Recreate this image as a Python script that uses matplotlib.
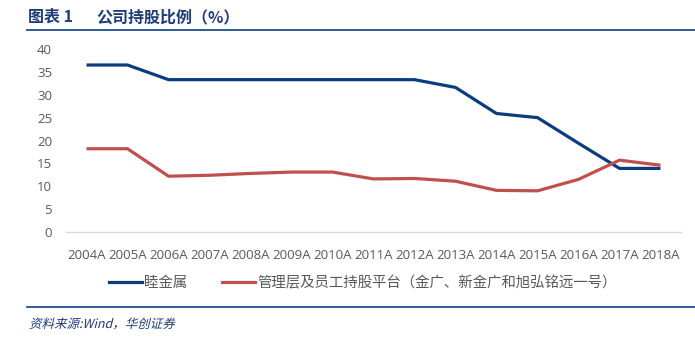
import numpy as np
import matplotlib
matplotlib.use('Agg')
from matplotlib import pyplot as plt
from matplotlib.lines import Line2D
from matplotlib.textpath import TextPath
from matplotlib.patches import PathPatch
from matplotlib.font_manager import FontProperties
from matplotlib.transforms import Affine2D

plt.rcParams['font.family'] = ['Noto Sans CJK SC', 'DejaVu Sans']

#~~ data
years = ['2004A', '2005A', '2006A', '2007A', '2008A', '2009A', '2010A', '2011A',
         '2012A', '2013A', '2014A', '2015A', '2016A', '2017A', '2018A']
lujin = [36.5, 36.5, 33.3, 33.3, 33.3, 33.3, 33.3, 33.3, 33.3, 31.6, 25.9, 25.0, 19.4, 13.9, 13.9]
mgmt = [18.2, 18.2, 12.2, 12.4, 12.8, 13.1, 13.1, 11.6, 11.7, 11.1, 9.1, 9.0, 11.5, 15.7, 14.6]
y_ticks = [0, 5, 10, 15, 20, 25, 30, 35, 40]
names = ['睦金属', '管理层及员工持股平台（金广、新金广和旭弘铭远一号）']

blue = '#0B3C7D'
red = '#C0504D'
gray = '#595959'
navy = '#1F3C73'
W, H = 695, 343

fig = plt.figure(figsize=(W / 100, H / 100), dpi=100)
ax = fig.add_axes([66 / W, 1 - 232 / H, (681 - 66) / W, (232 - 49) / H])

x = np.arange(len(years))
ax.plot(x, lujin, color=blue, lw=2.3, solid_capstyle='butt', solid_joinstyle='miter')
ax.plot(x, mgmt, color=red, lw=2.3, solid_capstyle='butt', solid_joinstyle='miter')

ax.set_xlim(-0.5, len(years) - 0.5)
ax.set_ylim(0, 40)
ax.set_yticks(y_ticks)
ax.set_xticks(x)
ax.set_xticklabels(years)
for s in ['top', 'right', 'left']:
    ax.spines[s].set_visible(False)
ax.spines['bottom'].set_color('#D9D9D9')
ax.spines['bottom'].set_linewidth(1.0)
ax.tick_params(axis='both', length=0, colors=gray)
ax.tick_params(axis='x', pad=12)
ax.tick_params(axis='y', pad=10)
for lab in ax.get_xticklabels() + ax.get_yticklabels():
    lab.set_fontfamily(['Open Sans', 'DejaVu Sans'])
    lab.set_fontsize(9.5)
    lab.set_color(gray)

#~ legend
handles = [Line2D([], [], color=blue, lw=2.3), Line2D([], [], color=red, lw=2.3)]
fig.legend(handles, names, loc='center left', bbox_to_anchor=(109 / W, 1 - 283 / H),
           ncol=2, frameon=False, fontsize=10.4, handlelength=2.3, handletextpad=0.15,
           columnspacing=2.4, labelcolor=gray, borderaxespad=0, borderpad=0)

#~ title and rules
fig.text(28 / W, 1 - 17 / H, '图表 1', fontsize=11.5, fontweight='bold',
         color=navy, va='center', ha='left')
fig.text(96 / W, 1 - 17 / H, '公司持股比例（%）', fontsize=11.5, fontweight='bold',
         color=navy, va='center', ha='left')
fig.add_artist(Line2D([27 / W, 1], [1 - 30 / H, 1 - 30 / H], color='#1F4E8C', lw=1.3))
fig.add_artist(Line2D([27 / W, 1], [1 - 307 / H, 1 - 307 / H], color='#1F4E8C', lw=1.3))

#~ footer in slanted text (CJK fonts have no italic face)
src = TextPath((0, 0), '资料来源:Wind，华创证券', size=12.5,
               prop=FontProperties(family='Noto Sans CJK SC'))
slant = Affine2D().skew_deg(14, 0).translate(29, H - 328)
fig.add_artist(PathPatch(src, transform=slant, facecolor=navy, edgecolor='none'))

fig.savefig('out.png', dpi=100)
print('done')
